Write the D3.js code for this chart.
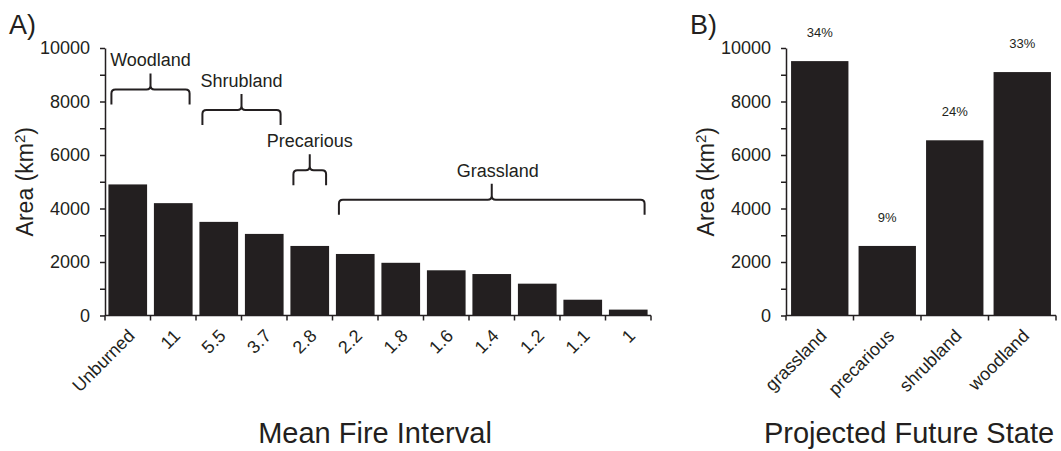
<!DOCTYPE html>
<html>
<head>
<meta charset="utf-8">
<script src="https://cdn.jsdelivr.net/npm/d3@7"></script>
<style>
    body { margin: 0; background: #fff; }
    text { font-family: "Liberation Sans", Arial, Helvetica, sans-serif; fill: #231f20; }
</style>
</head>
<body>
<div id="chart-area"></div>
<script>
// Data - panel A
var intervals = ["Unburned", "11", "5.5", "3.7", "2.8", "2.2", "1.8", "1.6", "1.4", "1.2", "1.1", "1"];
var areaByInterval = [4900, 4200, 3500, 3050, 2600, 2300, 1970, 1690, 1550, 1190, 590, 220];

// brackets: label, first category, last category, height of the bracket (km2)
var groupLabels = ["Woodland", "Shrubland", "Precarious", "Grassland"];
var groupFirst = ["Unburned", "5.5", "2.8", "2.2"];
var groupLast = ["11", "3.7", "2.8", "1"];
var groupLevel = [8450, 7680, 5430, 4330];

// Data - panel B
var states = ["grassland", "precarious", "shrubland", "woodland"];
var areaByState = [9510, 2600, 6550, 9100];
var statePct = ["34%", "9%", "24%", "33%"];

var yTicks = d3.range(0, 10001, 1000);
var ink = "#231f20";

var svg = d3.select("#chart-area")
    .append("svg")
        .attr("width", 1061)
        .attr("height", 451);

// Y Scale (shared)
var y = d3.scaleLinear()
    .domain([0, 10000])
    .range([315.5, 48]);

function drawPanel(left, right, cats, vals, letter, title, titleX) {
    var g = svg.append("g");

    // X Scale
    var x = d3.scaleBand()
        .domain(cats)
        .range([left, right])
        .paddingInner(0.15)
        .paddingOuter(0.075);

    // bars
    g.selectAll("rect")
        .data(cats)
        .enter()
        .append("rect")
            .attr("x", function(d){ return x(d); })
            .attr("y", function(d, i){ return y(vals[i]); })
            .attr("width", x.bandwidth())
            .attr("height", function(d, i){ return y(0) - y(vals[i]); })
            .attr("fill", ink);

    // Y Axis
    var yAxisCall = d3.axisLeft(y)
        .tickValues(yTicks)
        .tickSize(5)
        .tickSizeOuter(0)
        .tickPadding(10)
        .tickFormat(function(d){ return d % 2000 === 0 ? d : ""; });
    var yAxisGroup = g.append("g")
        .attr("transform", "translate(" + left + ",0)")
        .call(yAxisCall);
    yAxisGroup.selectAll("path, line")
        .attr("stroke", ink)
        .attr("stroke-width", 1.5);
    yAxisGroup.selectAll("text")
        .attr("font-size", "18px")
        .attr("font-family", "Liberation Sans, Arial, sans-serif")
        .attr("fill", ink);

    // X Axis (ticks sit on the category boundaries)
    g.append("line")
        .attr("x1", left)
        .attr("x2", right)
        .attr("y1", y(0))
        .attr("y2", y(0))
        .attr("stroke", ink)
        .attr("stroke-width", 1.5);
    g.selectAll(".xtick")
        .data(d3.range(cats.length + 1))
        .enter()
        .append("line")
            .attr("class", "xtick")
            .attr("x1", function(i){ return left + i * x.step(); })
            .attr("x2", function(i){ return left + i * x.step(); })
            .attr("y1", y(0))
            .attr("y2", y(0) + 5)
            .attr("stroke", ink)
            .attr("stroke-width", 1.5);

    // X tick labels
    g.selectAll(".xlabel")
        .data(cats)
        .enter()
        .append("text")
            .attr("class", "xlabel")
            .attr("font-size", "18px")
            .attr("text-anchor", "end")
            .attr("transform", function(d){
                return "translate(" + (x(d) + x.bandwidth() / 2 + 8) + ",337) rotate(-45)";
            })
            .text(function(d){ return d; });

    // Y Label
    var yl = g.append("text")
        .attr("font-size", "23px")
        .attr("text-anchor", "middle")
        .attr("transform", "translate(" + (left - 72) + "," + ((y(0) + y(10000)) / 2) + ") rotate(-90)");
    yl.append("tspan").text("Area (km");
    yl.append("tspan").attr("font-size", "15px").attr("dy", "-8").text("2");
    yl.append("tspan").attr("dy", "8").text(")");

    // X Label
    g.append("text")
        .attr("x", titleX)
        .attr("y", 443)
        .attr("font-size", "29px")
        .attr("text-anchor", "middle")
        .text(title);

    // panel letter
    g.append("text")
        .attr("x", left - 96)
        .attr("y", 34)
        .attr("font-size", "27px")
        .text(letter);

    return x;
}

var xA = drawPanel(105, 651, intervals, areaByInterval, "A)", "Mean Fire Interval", 375);
var xB = drawPanel(786, 1056, states, areaByState, "B)", "Projected Future State", 909);

// brackets over panel A
function bracePath(x0, x1, yl) {
    var xm = (x0 + x1) / 2, r = 4, drop = 15, peak = 16;
    return "M" + x0 + "," + (yl + drop)
        + "L" + x0 + "," + (yl + r)
        + "Q" + x0 + "," + yl + " " + (x0 + r) + "," + yl
        + "L" + (xm - r) + "," + yl
        + "Q" + xm + "," + yl + " " + xm + "," + (yl - r)
        + "L" + xm + "," + (yl - peak)
        + "M" + xm + "," + (yl - r)
        + "Q" + xm + "," + yl + " " + (xm + r) + "," + yl
        + "L" + (x1 - r) + "," + yl
        + "Q" + x1 + "," + yl + " " + x1 + "," + (yl + r)
        + "L" + x1 + "," + (yl + drop);
}

groupLabels.forEach(function(label, i){
    var x0 = xA(groupFirst[i]) + 3;
    var x1 = xA(groupLast[i]) + xA.bandwidth() - 3;
    var yl = y(groupLevel[i]);
    svg.append("path")
        .attr("d", bracePath(x0, x1, yl))
        .attr("fill", "none")
        .attr("stroke", ink)
        .attr("stroke-width", 2);
    svg.append("text")
        .attr("x", (x0 + x1) / 2 + (i === 3 ? 6 : 0))
        .attr("y", yl - 23)
        .attr("font-size", "18px")
        .attr("text-anchor", "middle")
        .text(label);
});

// percentage labels over panel B
svg.selectAll(".pct")
    .data(states)
    .enter()
    .append("text")
        .attr("class", "pct")
        .attr("x", function(d){ return xB(d) + xB.bandwidth() / 2; })
        .attr("y", function(d, i){ return y(areaByState[i]) - 24; })
        .attr("font-size", "13px")
        .attr("text-anchor", "middle")
        .text(function(d, i){ return statePct[i]; });
</script>
</body>
</html>
